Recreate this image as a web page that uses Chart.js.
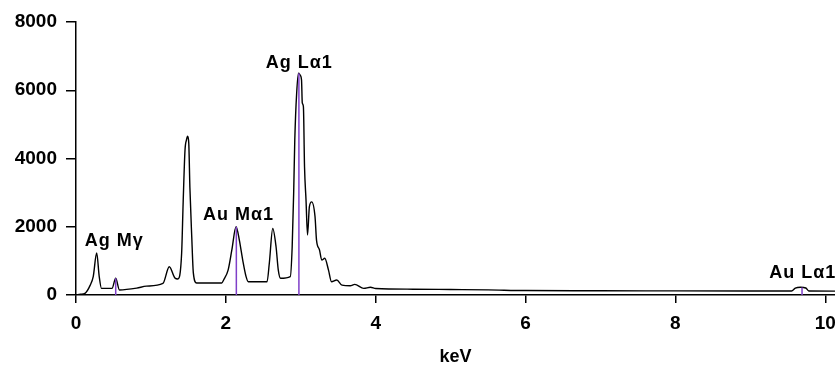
<!DOCTYPE html>
<html lang="en">
<head>
<meta charset="UTF-8">
<title>EDS Spectrum</title>
<script src="https://cdn.jsdelivr.net/npm/chart.js"></script>
<style>
  html, body { margin: 0; padding: 0; background: #fff; }
  .chart-container { position: relative; width: 835px; height: 366px; }
</style>
</head>
<body>
<div class="chart-container"><canvas id="chart"></canvas></div>
<script>
// spectrum (keV, counts)
const energy = [0, 0.06, 0.12, 0.19, 0.23, 0.276, 0.31, 0.34, 0.48, 0.53, 0.58, 0.81, 0.94, 1.16, 1.245, 1.32, 1.36,
  1.41, 1.43, 1.455, 1.475, 1.49, 1.505, 1.52, 1.545, 1.566, 1.61, 1.83, 1.945, 1.97, 2.03, 2.08, 2.136, 2.18, 2.225, 2.27,
  2.30, 2.55, 2.58, 2.626, 2.67, 2.70, 2.73, 2.86, 2.885, 2.905, 2.92, 2.945, 2.97, 2.99, 3.01, 3.02, 3.035, 3.05,
  3.07, 3.09, 3.115, 3.146, 3.19, 3.21, 3.25, 3.28, 3.32, 3.37, 3.41, 3.48, 3.55, 3.66, 3.72, 3.84, 3.93, 4.0, 4.5,
  5.0, 5.5, 6.0, 7.0, 8.0, 9.0, 9.55, 9.6, 9.67, 9.74, 9.78, 10.13];
const counts = [0, 20, 50, 290, 540, 1230, 540, 195, 195, 490, 147, 200, 260, 340, 830, 500, 470,
  1230, 2700, 4250, 4550, 4650, 4450, 3160, 1700, 650, 350, 350, 350, 440, 730, 1320, 2000, 1610, 1025, 540,
  390, 390, 930, 1950, 1415, 730, 490, 540, 1400, 2980, 4540, 5910, 6500, 6450, 6300, 5630, 5520, 3760,
  2780, 1760, 2590, 2730, 2300, 1610, 1320, 1025, 1075, 730, 390, 440, 290, 270, 310, 195, 225, 190, 170,
  160, 150, 130, 125, 120, 118, 118, 200, 225, 205, 118, 115];

// identified lines
const lineNames = ['Ag M\u03b3', 'Au M\u03b11', 'Ag L\u03b11', 'Au L\u03b11'];
const lineEnergy = [0.53, 2.14, 2.975, 9.69];
const lineCounts = [490, 2000, 6500, 220];
const labelEnergy = [0.51, 2.17, 2.98, 9.7];
const labelCounts = [1580, 2340, 6800, 645];

const xTicks = [0, 2, 4, 6, 8, 10];
const yTicks = [0, 2000, 4000, 6000, 8000];

const FONT = '"Liberation Sans", Arial, sans-serif';

// vertical marker segments, gaps between them
const markerData = [];
lineEnergy.forEach((e, i) => {
  markerData.push({x: e, y: 0}, {x: e, y: lineCounts[i]}, {x: e, y: null});
});

const peakLabels = {
  id: 'peakLabels',
  afterDatasetsDraw(chart) {
    const {ctx, scales: {x, y}} = chart;
    ctx.save();
    ctx.font = 'bold 18px ' + FONT;
    ctx.letterSpacing = '1px';
    ctx.fillStyle = '#000';
    ctx.textAlign = 'center';
    ctx.textBaseline = 'middle';
    lineNames.forEach((t, i) => {
      ctx.fillText(t, x.getPixelForValue(labelEnergy[i]), y.getPixelForValue(labelCounts[i]));
    });
    ctx.restore();
  }
};

new Chart(document.getElementById('chart'), {
  type: 'line',
  data: {
    datasets: [{
      data: energy.map((e, i) => ({x: e, y: counts[i]})),
      borderColor: '#000',
      borderWidth: 1.4,
      pointRadius: 0,
      cubicInterpolationMode: 'monotone',
      order: 1
    }, {
      data: markerData,
      borderColor: '#7f3fc8',
      borderWidth: 1.5,
      pointRadius: 0,
      spanGaps: false,
      order: 0
    }]
  },
  options: {
    responsive: true,
    maintainAspectRatio: false,
    animation: false,
    layout: { padding: { top: 22, left: 0, right: 0, bottom: 0 } },
    plugins: { legend: { display: false }, tooltip: { enabled: false } },
    scales: {
      x: {
        type: 'linear',
        min: 0,
        max: 10.13,
        afterBuildTicks: s => { s.ticks = xTicks.map(v => ({value: v})); },
        afterFit: s => { s.paddingLeft = 0; s.paddingRight = 0; s.height = 71; },
        ticks: { color: '#000', padding: 11, maxRotation: 0, autoSkip: false,
                 callback: v => String(v),
                 font: { family: FONT, size: 19, weight: 'bold', lineHeight: 1 } },
        grid: { drawOnChartArea: false, color: '#000', tickLength: 8, lineWidth: 1.5 },
        border: { color: '#000', width: 1.5 },
        title: { display: true, text: 'keV', color: '#000', padding: { top: 0, bottom: 0 },
                 font: { family: FONT, size: 18, weight: 'bold', lineHeight: 1 } }
      },
      y: {
        min: 0,
        max: 8000,
        afterBuildTicks: s => { s.ticks = yTicks.map(v => ({value: v})); },
        afterFit: s => { s.width = 76; s.paddingTop = 0; s.paddingBottom = 0; },
        ticks: { color: '#000', padding: 9,
                 callback: v => String(v),
                 font: { family: FONT, size: 19, weight: 'bold', lineHeight: 1 } },
        grid: { drawOnChartArea: false, color: '#000', tickLength: 10, lineWidth: 1.5 },
        border: { color: '#000', width: 1.5 }
      }
    }
  },
  plugins: [peakLabels]
});
</script>
</body>
</html>
